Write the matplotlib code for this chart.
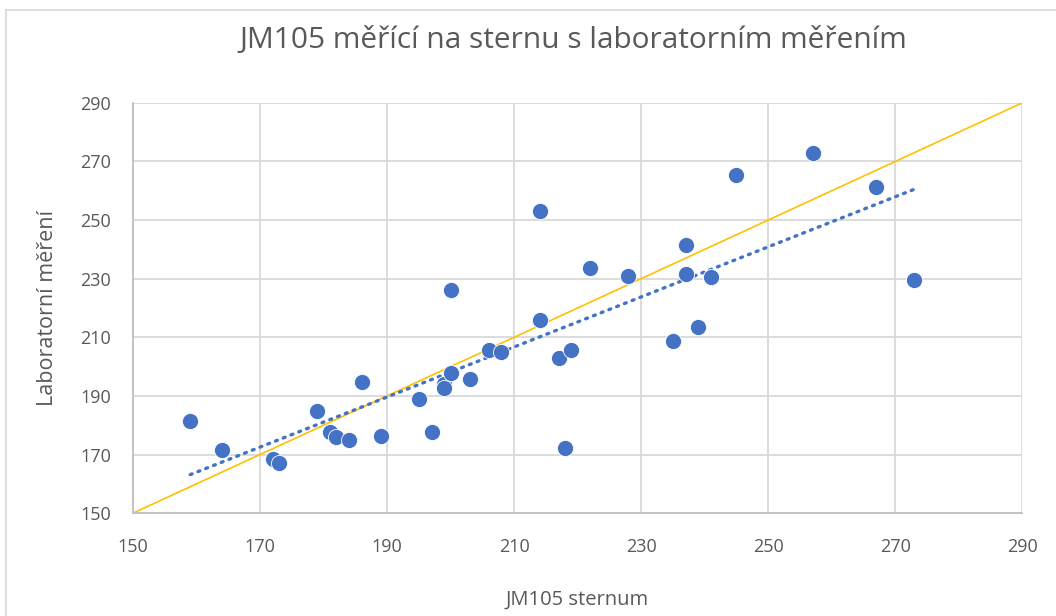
import numpy as np
import matplotlib
matplotlib.use('Agg')
import matplotlib.pyplot as plt
from matplotlib.lines import Line2D

plt.rcParams['font.family'] = ['Open Sans', 'DejaVu Sans']

# JM105 sternum vs laboratory measurement
sternum = [159, 164, 172, 173, 179, 181, 182, 184, 186, 189,
           195, 197, 199, 199, 200, 200, 203, 206, 208, 214,
           214, 217, 218, 219, 222, 228, 235, 237, 237, 239,
           241, 245, 257, 267, 273]
lab = [181.4, 171.5, 168.4, 167.1, 184.8, 177.6, 175.9, 174.9, 194.7, 176.3,
       188.9, 177.6, 194.0, 192.7, 197.8, 226.1, 195.7, 205.6, 204.9, 253.1,
       215.9, 202.9, 172.2, 205.6, 233.6, 230.9, 208.7, 241.5, 231.6, 213.5,
       230.5, 265.4, 272.9, 261.3, 229.5]

ticks = [150, 170, 190, 210, 230, 250, 270, 290]

blue = '#4472C4'
gold = '#FFC000'
grey_text = '#595959'
grid_col = '#D9D9D9'

fig = plt.figure(figsize=(10.56, 6.16), dpi=100)
ax = fig.add_axes([0.126, 0.167, 0.842, 0.666])

# outer chart frame (top and left edge visible)
fig.add_artist(Line2D([0.006, 1.0], [0.984, 0.984], transform=fig.transFigure,
                      color=grid_col, lw=1.2))
fig.add_artist(Line2D([0.006, 0.006], [0.0, 0.984], transform=fig.transFigure,
                      color=grid_col, lw=1.2))

x = np.array(sternum)
y = np.array(lab)

# identity line y = x
ax.plot([ticks[0], ticks[-1]], [ticks[0], ticks[-1]], color=gold, lw=1.2, zorder=2)

# linear trend
k, q = np.polyfit(x, y, 1)
xt = np.array([x.min(), x.max()])
ax.plot(xt, k * xt + q, color=blue, lw=2.4, linestyle=(0, (0.6, 1.9)),
        dash_capstyle='round', zorder=3)

ax.scatter(x, y, s=135, color=blue, edgecolor='white', linewidth=0.6, zorder=4)

ax.set_xlim(150, 290)
ax.set_ylim(150, 290)
ax.set_xticks(ticks)
ax.set_yticks(ticks)
ax.grid(True, color=grid_col, lw=1.3, zorder=0)
ax.set_axisbelow(True)
for side in ['top', 'right']:
    ax.spines[side].set_visible(False)
for side in ['left', 'bottom']:
    ax.spines[side].set_color('#BFBFBF')
    ax.spines[side].set_linewidth(1.3)
ax.tick_params(length=0, colors=grey_text, labelsize=13)
ax.tick_params(axis='x', pad=18)
ax.tick_params(axis='y', pad=16)

ax.set_xlabel('JM105 sternum', fontsize=14.5, color=grey_text, labelpad=24)
ax.set_ylabel('Laboratorní měření', fontsize=15.5, color=grey_text, labelpad=16)
fig.text(0.543, 0.935, 'JM105 měřící na sternu s laboratorním měřením',
         ha='center', va='center', fontsize=21.5, color=grey_text)

fig.savefig('out.png', dpi=100)
